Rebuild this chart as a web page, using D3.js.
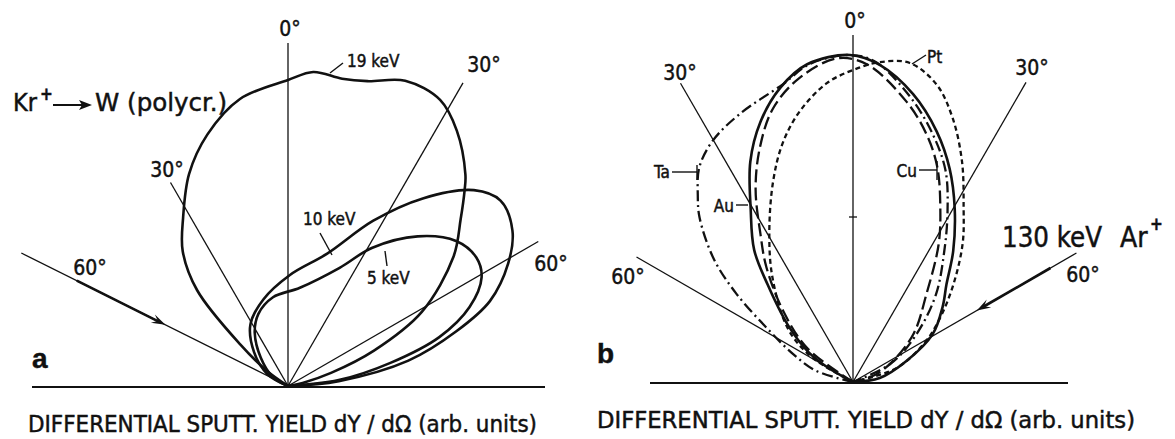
<!DOCTYPE html>
<html>
<head>
<meta charset="utf-8">
<script src="https://cdn.jsdelivr.net/npm/d3@7"></script>
<style>
body { margin:0; background:#fff; }
text { font-family:"DejaVu Sans Condensed","DejaVu Sans",sans-serif; fill:#111; stroke:#111; stroke-width:0.45; }
</style>
</head>
<body>
<div class="canvas"></div>
<script>
// angle (deg from surface normal, + = right) , yield (arb. units)
const kr19keV = [[-60,0],[-54,9],[-49,21],[-43.5,44],[-38,57],[-32,66],[-25,78],[-17.8,88],[-9.5,97],[0,102],[4.6,105],[10,104],[14.6,105],[21,109],[28,108],[33.5,102],[40,92],[42,88],[46,80],[52,70],[61,51],[67.6,31],[73,15],[78,5],[85,0]]
const kr10keV = [[-70,0],[-60,8],[-45,16],[-31.5,24],[-15.9,30],[1,37],[16.5,46],[27.3,62],[35.7,77],[43.5,90],[48.9,94],[55.3,91],[60.9,84],[67.2,73],[72,59],[78.1,41],[84.5,17],[89,0]]
const kr5keV = [[-70,0],[-59,6],[-44,13],[-31.9,21],[-22.3,26],[-9.6,30],[6.9,33],[23.6,43],[31.4,54],[40.9,66],[49.2,74],[55.7,76],[60.7,74],[66.5,66],[72.1,53],[77.3,35],[83.4,17],[89,0]]

const arAu = [[-64,0],[-60,10],[-56,18],[-48.7,29],[-41.3,43],[-36.8,55],[-30.6,67],[-25,81],[-19.6,92],[-13.9,101],[-8.2,107],[-0.5,109],[4.9,106],[11.8,98],[18.5,88],[24.4,78],[30.4,67],[37.4,55],[43.8,45],[50,39],[59,31],[68.7,19],[81.6,9],[88,0]]
const arCu = [[-62,0],[-53.5,19],[-44.6,33],[-37,48],[-32.1,58],[-26.8,72],[-21.7,84],[-16.3,95],[-9.9,103],[-2.8,108],[2.5,106],[10.9,95],[16.6,86],[21.4,77],[26.6,65],[31.9,54],[40,38],[51.3,26],[62.3,15],[71.6,8],[80,0]]
const arPt = [[-66,0],[-59,16],[-50.7,28],[-37.6,44],[-29.3,57],[-21.7,72],[-16.4,83],[-11.1,92],[-5,100],[0,104],[4.8,107],[10.1,108],[15.7,103],[20.7,94],[26.3,82],[32.3,69],[38.3,59],[45.6,47],[53.7,36],[61.5,27],[72.4,15],[82,0]]
const arTa = [[-80,0],[-73,13],[-65,22],[-57.9,34],[-52.8,49],[-48.5,62],[-43,75],[-39.7,81],[-35.6,88],[-30.2,93],[-22.9,97],[-13.2,102],[-7.7,107],[-0.5,109],[4,107],[11.3,97],[17.7,87],[23.6,77],[29,65],[35,53],[43.6,40],[53.4,26],[64,14],[76,0]]

const leftGuideAngles = [-63.5, -30, 0, 30, 60]
const rightGuideAngles = [-60, -30, 0, 30, 60]
const guideLabels = ['60°','30°','0°','30°','60°']
const energyLabels = ['19 keV','10 keV','5 keV']
const targetLabels = ['Au','Cu','Pt','Ta']
const caption = 'DIFFERENTIAL  SPUTT.  YIELD  dY / dΩ  (arb. units)'

const svg = d3.select('.canvas').append('svg')
    .attr('width',1175).attr('height',439)
svg.append('rect').attr('width',1175).attr('height',439).attr('fill','#fff')

const rScale = d3.scaleLinear().domain([0,100]).range([0,300])
const rad = a => a*Math.PI/180
const polar = (a,r) => [r*Math.sin(rad(a)), -r*Math.cos(rad(a))]

const lobe = d3.lineRadial()
    .angle(d => rad(d[0]))
    .radius(d => rScale(d[1]))
    .curve(d3.curveCatmullRom.alpha(0.5))

const ink = '#111'

function guides(g, angles, lengths) {
    g.selectAll('line.guide').data(angles).enter().append('line')
        .attr('class','guide')
        .attr('x1',0).attr('y1',0)
        .attr('x2',(d,i) => polar(d,lengths[i])[0])
        .attr('y2',(d,i) => polar(d,lengths[i])[1])
        .attr('stroke',ink).attr('stroke-width',1.3)
}

function arrow(g, a, rFrom, rTo) {
    const p0 = polar(a,rFrom), p1 = polar(a,rTo+8)
    g.append('line').attr('x1',p0[0]).attr('y1',p0[1]).attr('x2',p1[0]).attr('y2',p1[1])
        .attr('stroke',ink).attr('stroke-width',2.6)
    const tip = polar(a,rTo)
    const ang = Math.atan2(-tip[1], -tip[0]) // direction toward origin
    const head = d3.path()
    const L = 14, W = 4.5
    const bx = tip[0]-L*Math.cos(ang), by = tip[1]-L*Math.sin(ang)
    head.moveTo(tip[0],tip[1])
    head.lineTo(bx - W*Math.sin(ang), by + W*Math.cos(ang))
    head.lineTo(tip[0]-0.6*L*Math.cos(ang), tip[1]-0.6*L*Math.sin(ang))
    head.lineTo(bx + W*Math.sin(ang), by - W*Math.cos(ang))
    head.closePath()
    g.append('path').attr('d',head.toString()).attr('fill',ink)
}

function label(x, y, txt, size, anchor) {
    return svg.append('text').attr('x',x).attr('y',y).attr('font-size',size)
        .attr('text-anchor',anchor || 'middle').text(txt)
}
function leader(pts) {
    svg.append('path').attr('d',d3.line()(pts)).attr('fill','none')
        .attr('stroke',ink).attr('stroke-width',1.4)
}

// ---------- panel a ----------
const ga = svg.append('g').attr('transform','translate(288,386)')
svg.append('line').attr('x1',32).attr('x2',545).attr('y1',387).attr('y2',387)
    .attr('stroke',ink).attr('stroke-width',1.8)
guides(ga, leftGuideAngles, [298,235,343,350,289])
arrow(ga, leftGuideAngles[0], 236, 137)

;[kr19keV, kr10keV, kr5keV].forEach(s => {
    ga.append('path').attr('d',lobe(s)).attr('fill','none')
        .attr('stroke',ink).attr('stroke-width',2.6)
})

const aLabelPos = [[90,275],[167,177],[290,36],[484,72],[551,271]]
guideLabels.forEach((t,i) => label(aLabelPos[i][0], aLabelPos[i][1], t, 21))

label(347,67,energyLabels[0],17,'start')
leader([[330,73],[343,63]])
label(303,225,energyLabels[1],17,'start')
leader([[320,233],[332,255]])
label(367,284,energyLabels[2],17,'start')
leader([[385,251],[387,266]])

label(13,111,'Kr',25,'start')
label(40,100,'+',17,'start').attr('font-weight','bold')
svg.append('line').attr('x1',53).attr('x2',84).attr('y1',105).attr('y2',105)
    .attr('stroke',ink).attr('stroke-width',2)
svg.append('path').attr('d','M92,105 L79,100 L82,105 L79,110 Z').attr('fill',ink)
label(95,111,'W (polycr.)',25,'start').attr('textLength',132).attr('lengthAdjust','spacingAndGlyphs')

label(32,368,'a',28,'start').attr('font-weight','bold')
    .style('font-family','"Liberation Sans",Arial,sans-serif')
label(28,432,caption,23,'start').attr('textLength',509).attr('lengthAdjust','spacingAndGlyphs')

// ---------- panel b ----------
const gb = svg.append('g').attr('transform','translate(853,382)')
svg.append('line').attr('x1',650).attr('x2',1068).attr('y1',383).attr('y2',383)
    .attr('stroke',ink).attr('stroke-width',1.8)
guides(gb, rightGuideAngles, [250,345,347,346,258])
arrow(gb, rightGuideAngles[4], 228, 143)
gb.append('line').attr('x1',-4).attr('x2',4)
    .attr('y1',-rScale(55)).attr('y2',-rScale(55))
    .attr('stroke',ink).attr('stroke-width',1.3)

const styles = {Au:null, Cu:'13,5', Pt:'5,3.5', Ta:'11,4,2,4'}
;[arTa, arPt, arCu, arAu].forEach((s,i) => {
    const name = ['Ta','Pt','Cu','Au'][i]
    gb.append('path').attr('d',lobe(s)).attr('fill','none')
        .attr('stroke',ink).attr('stroke-width',name === 'Au' ? 2.6 : 2.3)
        .attr('stroke-dasharray',styles[name])
})

const bLabelPos = [[628,284],[680,80],[855,28],[1032,75],[1083,282]]
guideLabels.forEach((t,i) => label(bLabelPos[i][0], bLabelPos[i][1], t, 21))

label(734,212,targetLabels[0],17,'end')
leader([[736,205],[748,205]])
label(917,177,targetLabels[1],17,'end')
leader([[919,170],[937,170]]); leader([[937,161],[937,180]])
label(927,63,targetLabels[2],17,'start')
leader([[912,64],[926,55]])
label(670,178,targetLabels[3],17,'end')
leader([[672,172],[697,172]]); leader([[697,165],[697,180]])

label(1002,247,'130 keV',28,'start').attr('textLength',100).attr('lengthAdjust','spacingAndGlyphs')
label(1120,247,'Ar',28,'start')
label(1150,230,'+',17,'start').attr('font-weight','bold')

label(597,363,'b',28,'start').attr('font-weight','bold')
    .style('font-family','"Liberation Sans",Arial,sans-serif')
label(597,428,caption,23,'start').attr('textLength',538).attr('lengthAdjust','spacingAndGlyphs')
</script>
</body>
</html>
